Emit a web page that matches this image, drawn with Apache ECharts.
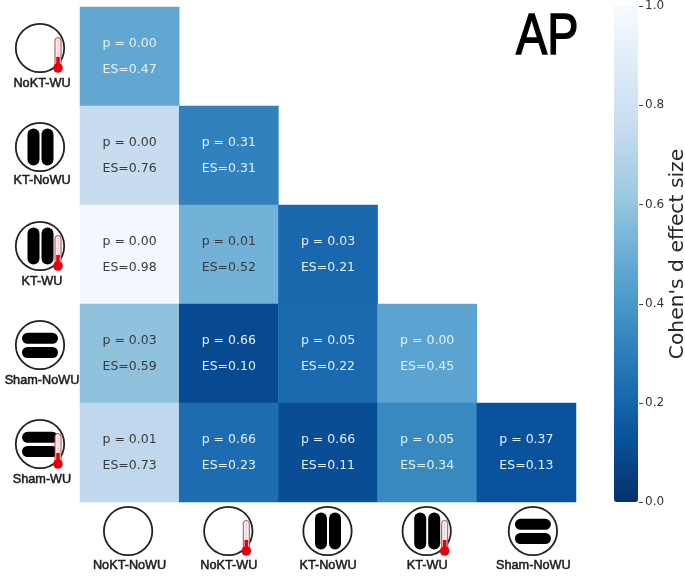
<!DOCTYPE html>
<html><head><meta charset="utf-8">
<style>html,body{margin:0;padding:0;background:#fff}#c{width:685px;height:577px}</style>
<script src="https://cdn.jsdelivr.net/npm/echarts@6/dist/echarts.min.js"></script>
</head><body><div id="c"></div>
<script>
const columns = ['NoKT-NoWU','NoKT-WU','KT-NoWU','KT-WU','Sham-NoWU'];
const rows = ['NoKT-WU','KT-NoWU','KT-WU','Sham-NoWU','Sham-WU'];
const esValues = [
  [0.47],
  [0.76,0.31],
  [0.98,0.52,0.21],
  [0.59,0.10,0.22,0.45],
  [0.73,0.23,0.11,0.34,0.13]
];
const pValues = [
  ['0.00'],
  ['0.00','0.31'],
  ['0.00','0.01','0.03'],
  ['0.03','0.66','0.05','0.00'],
  ['0.01','0.66','0.66','0.05','0.37']
];
const colorbarTicks = [0,0.2,0.4,0.6,0.8,1.0];
const blues = ['#08306b','#08519c','#2171b5','#4292c6','#6baed6','#9ecae1','#c6dbef','#deebf7','#f7fbff'];
const colIcons = [[0,0],['',1],['v',0],['v',1],['h',0]];
const rowIcons = [['',1],['v',0],['v',1],['h',0],['h',1]];

const cells = [];
esValues.forEach((r,i)=>r.forEach((es,j)=>{
  cells.push({value:[j,i,es],p:pValues[i][j],
    label:{color: es>=0.5 ? '#3a3a3a' : '#e6eff7'}});
}));

const labelFont = {fontFamily:'Liberation Sans, Arial, sans-serif',fontSize:12.7,color:'#1a1a1a',textBorderColor:'#1a1a1a',textBorderWidth:0.5};
const chart = echarts.init(document.getElementById('c'),null,{renderer:'canvas'});
chart.setOption({
  animation:false,
  backgroundColor:'#fff',
  grid:[
    {left:80,top:7,width:496,height:495,outerBoundsMode:'none'},
    {left:614,top:6,width:24,height:496,outerBoundsMode:'none'}
  ],
  xAxis:[
    {type:'category',gridIndex:0,data:columns,position:'bottom',
     axisLine:{show:false},axisTick:{show:false},splitLine:{show:false},
     axisLabel:{margin:57,interval:0,
       formatter:v=> v==='Sham-NoWU' ? '{s|'+v+'}' : '{a|'+v+'}',
       rich:{a:labelFont,s:Object.assign({},labelFont,{padding:[0,0,0,14]})}}},
    {type:'value',gridIndex:1,show:false,min:0,max:1}
  ],
  yAxis:[
    {type:'category',gridIndex:0,data:rows,inverse:true,
     axisLine:{show:false},axisTick:{show:false},splitLine:{show:false},
     axisLabel:{margin:38,align:'center',interval:0,
       formatter:v=> v==='KT-NoWU' ? '{k|'+v+'}' : '{a|'+v+'}',
       rich:{a:Object.assign({},labelFont,{padding:[54,0,0,0]}),k:Object.assign({},labelFont,{padding:[49,0,0,0]})}}},
    {type:'value',gridIndex:1,position:'right',min:0,max:1,interval:0.2,
     name:"Cohen's d effect size",nameLocation:'middle',nameRotate:90,nameGap:26,
     nameTextStyle:{fontFamily:'DejaVu Sans',fontSize:20.3,color:'#262626'},
     axisLine:{show:false},splitLine:{show:false},
     axisTick:{show:false},
     axisLabel:{margin:7,padding:[2,0,0,0],fontFamily:'DejaVu Sans',fontSize:12,color:'#333',verticalAlignMinLabel:'middle',verticalAlignMaxLabel:'middle',
       formatter:v=>colorbarTicks.includes(+v.toFixed(1))?v.toFixed(1):''}}
  ],
  visualMap:{type:'continuous',min:0,max:1,seriesIndex:0,left:614,top:6,itemWidth:24,itemHeight:496,
    padding:0,text:null,showLabel:false,calculable:false,hoverLink:false,orient:'vertical',
    handleSize:0,indicatorSize:0,handleStyle:{opacity:0},indicatorStyle:{opacity:0},
    inRange:{color:blues},textStyle:{color:'rgba(0,0,0,0)'}},
  series:[{type:'heatmap',xAxisIndex:0,yAxisIndex:0,data:cells,progressive:0,
    itemStyle:{borderWidth:0},
    label:{show:true,fontFamily:'DejaVu Sans',fontSize:12.5,lineHeight:25.5,
      formatter:p=>'p = '+p.data.p+'\nES='+p.data.value[2].toFixed(2)},
    emphasis:{disabled:true}}]
});

function icon(kind,thermo,cx,cy){
  const ch=[{type:'circle',shape:{cx:0,cy:0,r:24.2},style:{fill:'#fff',stroke:'#222',lineWidth:1.8}}];
  if(kind==='v'){
    ch.push({type:'rect',shape:{x:-12.5,y:-18.5,width:12,height:37,r:6},style:{fill:'#000'}});
    ch.push({type:'rect',shape:{x:1.5,y:-18.5,width:12,height:37,r:6},style:{fill:'#000'}});
  }
  if(kind==='h'){
    ch.push({type:'rect',shape:{x:-18,y:-12.2,width:36,height:11,r:5.5},style:{fill:'#000'}});
    ch.push({type:'rect',shape:{x:-18,y:2,width:36,height:11,r:5.5},style:{fill:'#000'}});
  }
  if(thermo){
    ch.push({type:'rect',shape:{x:15,y:-10.5,width:6,height:30,r:3},style:{fill:'#fbeeee',stroke:'#a33',lineWidth:0.9}});
    ch.push({type:'line',shape:{x1:18,y1:-8,x2:18,y2:9},style:{stroke:'#d9a0a0',lineWidth:1,lineDash:[1,1]}});
    ch.push({type:'rect',shape:{x:16.2,y:9,width:3.6,height:10},style:{fill:'#e8000f'}});
    ch.push({type:'circle',shape:{cx:18,cy:20,r:4.8},style:{fill:'#e8000f'}});
  }
  return {type:'group',x:cx,y:cy,z:10,children:ch};
}
const gs=[];
columns.forEach((c,i)=>{
  const x=chart.convertToPixel({xAxisIndex:0},c)+(c==='Sham-NoWU'?7:0)-(i<1?1.5:0.5);
  gs.push(icon(colIcons[i][0],colIcons[i][1],x,531));
});
rows.forEach((r,i)=>{
  const y=chart.convertToPixel({yAxisIndex:0},r);
  gs.push(icon(rowIcons[i][0],rowIcons[i][1],40,y-8.5));
});
colorbarTicks.forEach(t=>{
  const y=Math.round(chart.convertToPixel({yAxisIndex:1},t))+0.5;
  gs.push({type:'line',z:10,shape:{x1:639,y1:y,x2:643,y2:y},style:{stroke:'#444',lineWidth:1}});
});
gs.push({type:'text',x:516,y:10,scaleX:0.82,z:10,
  style:{text:'AP',fontFamily:'Liberation Sans, Arial',fontSize:57,fill:'#000',stroke:'#000',lineWidth:1.5}});
chart.setOption({graphic:gs});
</script></body></html>
